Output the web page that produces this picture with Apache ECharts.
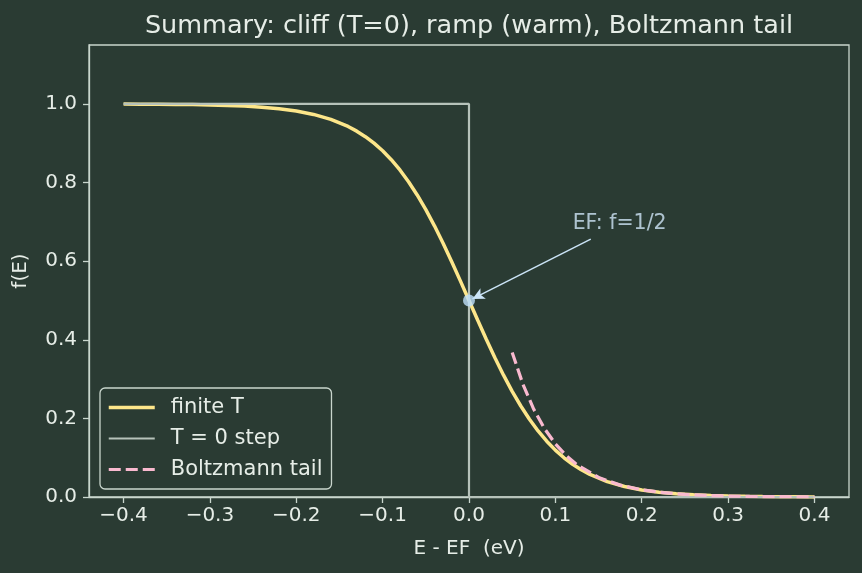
<!DOCTYPE html>
<html>
<head>
<meta charset="utf-8">
<script src="https://cdn.jsdelivr.net/npm/echarts@6/dist/echarts.min.js"></script>
<style>
  html, body { margin: 0; padding: 0; background: #2a3b33; }
  #chart { width: 862px; height: 573px; }
</style>
</head>
<body>
<div id="chart"></div>
<script>
// energies E - EF (eV) for the warm curve
const energy = [-0.40, -0.38, -0.36, -0.34, -0.32, -0.30, -0.28, -0.26, -0.24, -0.22,
  -0.20, -0.18, -0.16, -0.14, -0.13, -0.12, -0.11, -0.10, -0.09, -0.08, -0.07, -0.06, -0.05, -0.04, -0.03, -0.02, -0.01,
  0.00, 0.01, 0.02, 0.03, 0.04, 0.05, 0.06, 0.07, 0.08, 0.09, 0.10, 0.11, 0.12, 0.13, 0.14, 0.16, 0.18,
  0.20, 0.22, 0.24, 0.26, 0.28, 0.30, 0.32, 0.34, 0.36, 0.38, 0.40];
const finiteT = [0.9997, 0.9995, 0.9993, 0.9989, 0.9983, 0.9975, 0.9963, 0.9945, 0.9918, 0.9879,
  0.9820, 0.9734, 0.9608, 0.9427, 0.9308, 0.9168, 0.9002, 0.8808, 0.8581, 0.8320, 0.8022, 0.7685, 0.7311, 0.6900, 0.6457, 0.5987, 0.5498,
  0.5000, 0.4502, 0.4013, 0.3543, 0.3100, 0.2689, 0.2315, 0.1978, 0.1680, 0.1419, 0.1192, 0.0998, 0.0832, 0.0692, 0.0573, 0.0392, 0.0266,
  0.0180, 0.0121, 0.0082, 0.0055, 0.0037, 0.0025, 0.0017, 0.0011, 0.0007, 0.0005, 0.0003];

// T = 0 step
const stepX = [-0.4, 0.0, 0.0, 0.4];
const stepY = [1.0, 1.0, 0.0, 0.0];

// Boltzmann tail
const tailX = [0.05, 0.0625, 0.075, 0.0875, 0.10, 0.1125, 0.125, 0.15, 0.175, 0.20, 0.225, 0.25, 0.275, 0.30, 0.325, 0.35, 0.375, 0.40];
const tailY = [0.3679, 0.2865, 0.2231, 0.1738, 0.1353, 0.1054, 0.0821, 0.0498, 0.0302, 0.0183, 0.0111, 0.0067, 0.0041, 0.0025, 0.0015, 0.0009, 0.0006, 0.0003];

// Fermi level marker + annotation
const efPoint = [0.0, 0.5];
const arrowFrom = [0.141, 0.656];
const arrowTo = [0.004, 0.504];
const annotAt = [0.12, 0.695];

const xTicks = [-0.4, -0.3, -0.2, -0.1, 0.0, 0.1, 0.2, 0.3, 0.4];
const yTicks = [0.0, 0.2, 0.4, 0.6, 0.8, 1.0];

const fg = '#e6ede7';
const axisCol = '#c9d6cd';
const font = 'DejaVu Sans';

function zip(a, b){ return a.map((v, i) => [v, b[i]]); }

const chart = echarts.init(document.getElementById('chart'));
chart.setOption({
  backgroundColor: '#2a3b33',
  animation: false,
  title: {
    text: 'Summary: cliff (T=0), ramp (warm), Boltzmann tail',
    left: 464, top: 8, textAlign: 'center',
    textStyle: { color: fg, fontFamily: font, fontSize: 25.5, fontWeight: 'normal' }
  },
  grid: { left: 89, right: 13, top: 45, bottom: 76, show: true, borderColor: axisCol, borderWidth: 1.3 },
  legend: {
    orient: 'vertical', left: 100, top: 388,
    padding: [9, 9, 9, 7], itemGap: 10, itemWidth: 46, itemHeight: 20,
    backgroundColor: '#2a3b33', borderColor: axisCol, borderWidth: 1.3, borderRadius: 5,
    itemStyle: { opacity: 0 },
    lineStyle: { width: 'inherit' },
    textStyle: { color: fg, fontFamily: font, fontSize: 21, padding: [0, 0, 0, 11] },
    data: ['finite T', 'T = 0 step', 'Boltzmann tail']
  },
  xAxis: {
    type: 'value', min: -0.44, max: 0.44,
    name: 'E - EF  (eV)', nameLocation: 'middle', nameGap: 42,
    nameTextStyle: { color: fg, fontFamily: font, fontSize: 20 },
    axisLine: { show: true, onZero: false, lineStyle: { color: axisCol, width: 1.3 } },
    axisTick: { show: true, length: 6, customValues: xTicks, lineStyle: { color: axisCol, width: 1.3 } },
    axisLabel: { color: fg, fontFamily: font, fontSize: 20, margin: 9, customValues: xTicks,
      formatter: v => v.toFixed(1).replace('-', '\u2212') },
    splitLine: { show: false }
  },
  yAxis: {
    type: 'value', min: 0, max: 1.15,
    name: 'f(E)', nameLocation: 'middle', nameGap: 58,
    nameTextStyle: { color: fg, fontFamily: font, fontSize: 20 },
    axisLine: { show: true, onZero: false, lineStyle: { color: axisCol, width: 1.3 } },
    axisTick: { show: true, length: 6, customValues: yTicks, lineStyle: { color: axisCol, width: 1.3 } },
    axisLabel: { color: fg, fontFamily: font, fontSize: 20, margin: 12, customValues: yTicks,
      formatter: v => v.toFixed(1) },
    splitLine: { show: false }
  },
  series: [
    {
      name: 'finite T', type: 'line', data: zip(energy, finiteT),
      showSymbol: false, symbol: 'none', z: 2,
      lineStyle: { color: '#fde68a', width: 3.5 }, itemStyle: { color: '#fde68a' }
    },
    {
      name: 'T = 0 step', type: 'line', data: zip(stepX, stepY),
      showSymbol: false, symbol: 'none', z: 3,
      lineStyle: { color: '#b6c2ba', width: 2.2 }, itemStyle: { color: '#b6c2ba' }
    },
    {
      name: 'Boltzmann tail', type: 'line', data: zip(tailX, tailY),
      showSymbol: false, symbol: 'none', z: 4,
      lineStyle: { color: '#f9b9cf', width: 3.2, type: [12, 5] }, itemStyle: { color: '#f9b9cf' }
    },
    {
      name: 'EF', type: 'scatter', data: [efPoint], symbolSize: 12, z: 5,
      itemStyle: { color: '#bfe1fb' },
      markLine: {
        silent: true, symbol: ['none', 'arrow'], symbolSize: [9, 12],
        lineStyle: { color: '#cbe4f7', width: 1.5, type: 'solid' },
        label: { show: false },
        data: [[{ coord: arrowFrom }, { coord: arrowTo }]]
      }
    },
    {
      name: 'annot', type: 'scatter', data: [annotAt], symbolSize: 0, z: 5,
      label: { show: true, position: 'right', distance: 0, formatter: 'EF: f=1/2',
        color: '#cfe6f7', fontFamily: font, fontSize: 20.5 }
    }
  ]
});
</script>
</body>
</html>
